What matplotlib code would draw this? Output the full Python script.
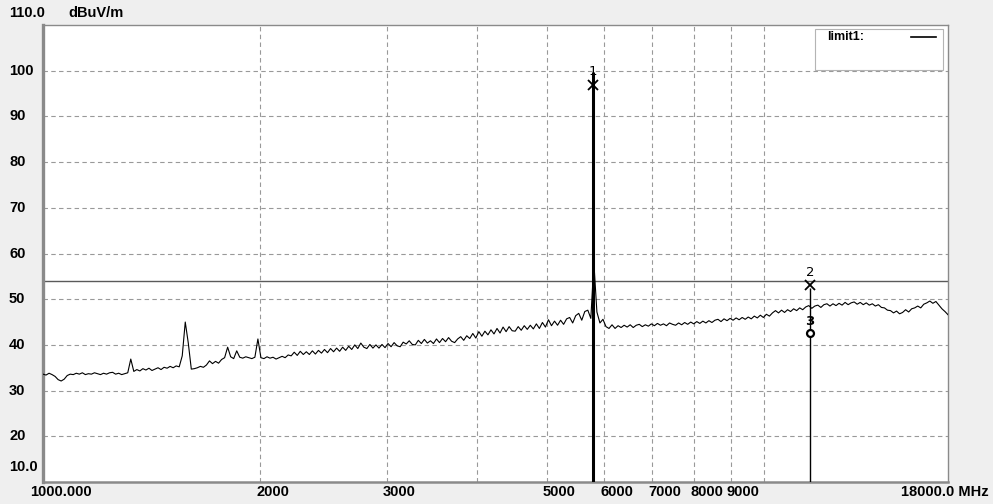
import numpy as np
import matplotlib
matplotlib.use("Agg")
import matplotlib.pyplot as plt
from matplotlib.transforms import blended_transform_factory, ScaledTranslation
from matplotlib.patches import Rectangle

# sweep: 300 points, log spaced 1 GHz .. 18 GHz
f_start, f_stop = 1000.0, 18000.0
level = [
    33.6, 33.4, 33.8, 33.5, 33.1, 32.4, 32.1, 32.5, 33.3, 33.6,
    33.5, 33.8, 33.6, 33.9, 33.5, 33.7, 33.6, 33.9, 33.7, 33.5,
    33.8, 33.6, 33.9, 34.0, 33.6, 33.8, 33.5, 33.7, 33.9, 36.9,
    34.2, 34.6, 34.3, 34.8, 34.5, 34.9, 34.4, 34.7, 35.0, 34.6,
    35.1, 34.9, 35.3, 35.0, 35.4, 35.2, 37.6, 45.0, 40.4, 34.7,
    34.8, 35.0, 35.3, 35.1, 35.6, 36.5, 35.9, 36.4, 36.0, 36.8,
    37.2, 39.5, 37.4, 37.0, 38.7, 37.3, 37.1, 37.4, 37.2, 37.0,
    37.3, 41.3, 37.2, 37.0, 37.4, 37.1, 37.3, 36.9, 37.2, 37.5,
    37.2, 37.8, 37.6, 38.4, 37.7, 38.6, 37.9, 38.5, 37.9, 38.7,
    38.0, 38.8, 38.2, 39.0, 38.3, 39.2, 38.5, 39.3, 38.6, 39.5,
    38.8, 39.7, 39.0, 40.0, 39.2, 40.4, 39.5, 39.2, 40.1, 39.3,
    40.0, 39.3, 40.1, 39.4, 40.3, 39.6, 40.5, 39.8, 39.6, 40.6,
    40.2, 40.9, 40.1, 40.0, 41.0, 40.3, 41.2, 40.4, 40.9, 40.3,
    41.3, 40.5, 41.4, 40.7, 41.6, 40.8, 40.5, 41.3, 41.8, 41.0,
    42.0, 41.4, 42.5, 41.5, 42.9, 41.9, 43.0, 42.2, 43.3, 42.4,
    43.6, 42.6, 43.9, 42.9, 44.0, 43.1, 43.0, 44.0, 43.2, 44.2,
    43.4, 44.3, 43.5, 44.6, 43.6, 44.9, 43.9, 45.5, 44.2, 45.2,
    44.3, 45.4, 44.5, 45.7, 46.0, 44.8, 46.4, 46.9, 45.4, 47.3,
    47.6, 45.8, 58.0, 47.2, 44.8, 45.6, 44.0, 43.6, 44.4, 43.6,
    44.2, 43.8, 44.3, 43.9, 44.4, 43.8, 44.3, 44.5, 44.0, 44.4,
    44.1, 44.6, 44.2, 44.7, 44.3, 44.6, 44.2, 44.8, 44.5, 44.3,
    44.8, 44.4, 44.9, 44.5, 45.0, 44.6, 45.1, 44.7, 45.2, 44.8,
    45.3, 44.9, 45.4, 45.6, 45.1, 45.7, 45.3, 45.8, 45.4, 45.9,
    45.5, 46.0, 45.6, 46.1, 45.7, 46.3, 45.9, 46.5, 46.0, 46.7,
    46.3, 47.0, 47.5, 47.0, 47.6, 47.1, 47.7, 47.3, 47.9, 47.5,
    48.1, 47.7, 48.3, 48.6, 48.0, 48.5, 48.7, 48.2, 48.8, 49.0,
    48.5, 49.0, 48.6, 49.1, 48.7, 49.3, 48.8, 49.2, 49.4, 48.9,
    49.3, 48.8, 49.2, 48.7, 49.0, 48.5, 48.8, 48.2, 48.1, 47.6,
    47.5, 47.0, 47.4, 46.8, 47.1, 47.7, 47.2, 47.9, 48.1, 48.5,
    48.1, 48.9, 49.2, 49.6, 49.1, 49.5, 48.7, 47.9, 47.3, 46.6,
]
freq = np.geomspace(f_start, f_stop, len(level))

limit_db = 54.0

# markers: (label, frequency MHz, level dBuV/m)
mk_names = ["1", "2", "3"]
mk_freq = [5790.0, 11580.0, 11580.0]
mk_level = [96.9, 53.1, 42.6]
mk_line_top = [99.8, 52.5]

y_ticks = [20, 30, 40, 50, 60, 70, 80, 90, 100]
x_grid = [2000, 3000, 4000, 5000, 6000, 7000, 8000, 9000, 10000]
x_labels = [2000, 3000, 5000, 6000, 7000, 8000, 9000]

fig = plt.figure(figsize=(9.93, 5.04), dpi=100, facecolor="#efefef")
ax = fig.add_axes([43 / 993, 1 - 482 / 504, 905 / 993, 457 / 504])
ax.set_facecolor("white")
ax.set_xscale("log")
ax.set_xlim(f_start, f_stop)
ax.set_ylim(10, 110)
ax.set_xticks([])
ax.set_yticks([])
ax.minorticks_off()
ax.tick_params(which="both", length=0, labelbottom=False, labelleft=False)

for sp in ax.spines.values():
    sp.set_color("#8a8a8a")
    sp.set_linewidth(1.0)
ax.spines["left"].set_linewidth(2.4)
ax.spines["bottom"].set_linewidth(1.8)

grid_kw = dict(color="#999999", lw=0.8, ls=(0, (4, 3)), zorder=1)
for y in y_ticks:
    ax.axhline(y, **grid_kw)
for x in x_grid:
    ax.axvline(x, **grid_kw)

# limit line
ax.axhline(limit_db, color="#5a5a5a", lw=1.0, zorder=2)

# measured trace
ax.plot(freq, level, color="black", lw=0.8, zorder=3)

# marker verticals
ax.vlines(mk_freq[0], 10, mk_line_top[0], color="black", lw=2.2, zorder=4)
ax.vlines(mk_freq[1], 10, mk_line_top[1], color="black", lw=1.0, zorder=4)

ax.plot(mk_freq[0], mk_level[0], marker="x", color="black", ms=7, mew=1.3, zorder=5)
ax.plot(mk_freq[1], mk_level[1], marker="x", color="black", ms=7, mew=1.3, zorder=5)
ax.plot(mk_freq[2], mk_level[2], marker="o", mfc="white", mec="black", ms=5, mew=1.6, zorder=5)
ax.text(mk_freq[0], mk_level[0] + 1.6, mk_names[0], ha="center", va="bottom", fontsize=9.5, zorder=6)
ax.text(mk_freq[1], mk_level[1] + 1.3, mk_names[1], ha="center", va="bottom", fontsize=9.5, zorder=6)
ax.text(mk_freq[2], mk_level[2] + 1.2, mk_names[2], ha="center", va="bottom", fontsize=9.5,
        fontweight="bold", zorder=6)

# legend box
ax.add_patch(Rectangle((0.853, 0.9015), 0.1415, 0.0895, transform=ax.transAxes,
                       facecolor="white", edgecolor="#b4b4b4", lw=0.8, zorder=6))
ax.text(0.866, 0.974, "limit1:", transform=ax.transAxes, ha="left", va="center",
        fontsize=9, fontweight="bold", family="Liberation Sans", zorder=7)
ax.plot([0.959, 0.987], [0.974, 0.974], transform=ax.transAxes, color="black", lw=1.2, zorder=7)

lab_kw = dict(fontsize=10.5, fontweight="bold", family="Liberation Sans", color="black")

# y labels, left aligned at figure edge
ty = blended_transform_factory(fig.transFigure, ax.transData)
for y in y_ticks:
    ax.text(9 / 993, y, str(y), transform=ty, ha="left", va="center", clip_on=False, **lab_kw)
ax.text(9 / 993, 13.2, "10.0", transform=ty, ha="left", va="center", clip_on=False, **lab_kw)
fig.text(9 / 993, 1 - 13 / 504, "110.0", ha="left", va="center", **lab_kw)
fig.text(68 / 993, 1 - 13 / 504, "dBuV/m", ha="left", va="center", **lab_kw)

# x labels
tx = blended_transform_factory(ax.transData, fig.transFigure)
shift = ScaledTranslation(-4 / 100, 0, fig.dpi_scale_trans)
for x in x_labels:
    ax.text(x, 1 - 492 / 504, str(x), transform=tx + shift, ha="left", va="center",
            clip_on=False, **lab_kw)
fig.text(30 / 993, 1 - 492 / 504, "1000.000", ha="left", va="center", **lab_kw)
fig.text(989 / 993, 1 - 492 / 504, "18000.0 MHz", ha="right", va="center", **lab_kw)

fig.savefig("out.png", dpi=100, facecolor=fig.get_facecolor())
